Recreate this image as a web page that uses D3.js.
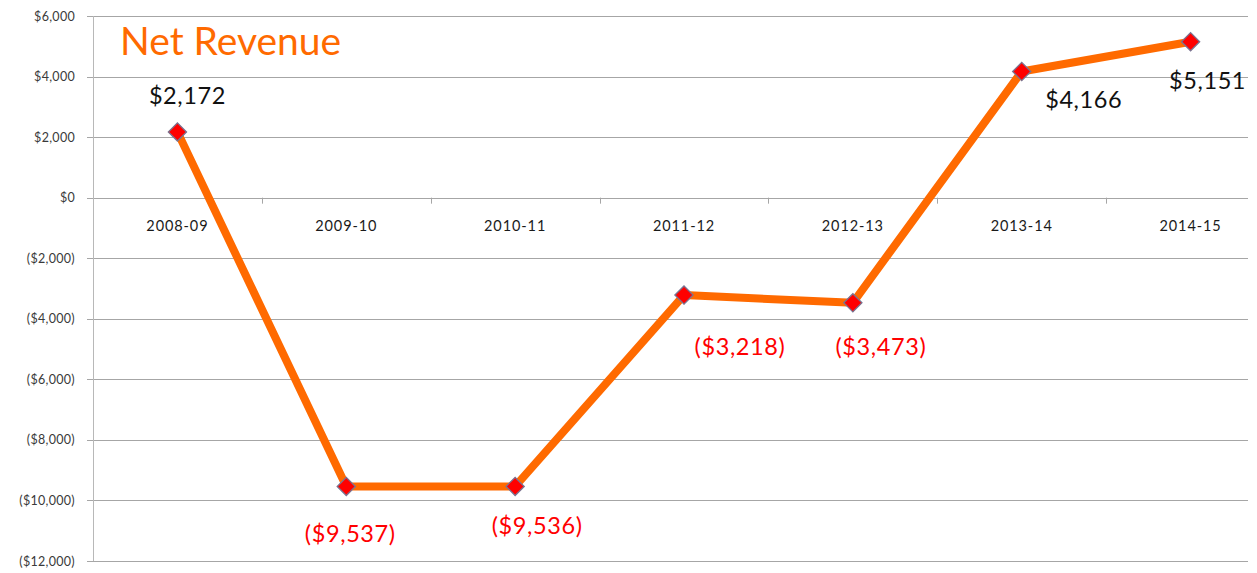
<!DOCTYPE html>
<html lang="en">
<head>
  <meta charset="UTF-8">
  <title>Net Revenue</title>
  <script src="https://d3js.org/d3.v7.min.js"></script>
  <style>
    html, body {
      margin: 0;
      background: #fff;
      font-family: Lato, "Open Sans", sans-serif;
    }
    .ytick text { font-size: 12.5px; fill: #3a3a3a; letter-spacing: 0.3px; }
    .xtick text { font-size: 14.5px; fill: #1a1a1a; letter-spacing: 0.9px; }
    .title { font-size: 39px; fill: #ff6a00; }
    .dlabel { font-size: 23.5px; text-anchor: middle; dominant-baseline: central; letter-spacing: 0.6px; }
  </style>
</head>
<body>
  <div id="chart"></div>

  <script>
    const years = ["2008-09", "2009-10", "2010-11", "2011-12", "2012-13", "2013-14", "2014-15"];
    const revenue = [2172, -9537, -9536, -3218, -3473, 4166, 5151];
    const yTicks = [6000, 4000, 2000, 0, -2000, -4000, -6000, -8000, -10000, -12000];
    // label nudges (px) relative to each point, as dragged in the original
    const labelDx = [10, 4, 22, 56, 28, 62, 17];
    const labelDy = [-37, 47, 39, 51, 43, 27, 38];

    const W = 1257, H = 573;
    const plotL = 93, plotR = 1275, plotT = 16, plotB = 561, gridEnd = 1248;

    const svg = d3.select("#chart").append("svg")
      .attr("width", W)
      .attr("height", H);

    const x = d3.scaleBand().domain(years).range([plotL, plotR]);
    const y = d3.scaleLinear().domain([-12000, 6000]).range([plotB, plotT]);

    const money = v => v < 0 ? "($" + d3.format(",")(-v) + ")" : "$" + d3.format(",")(v);

    // gridlines + y labels
    const yg = svg.append("g").attr("class", "ytick");
    yg.selectAll("line")
      .data(yTicks)
      .enter()
      .append("line")
      .attr("x1", plotL - 6)
      .attr("x2", gridEnd)
      .attr("y1", d => Math.round(y(d)) + 0.5)
      .attr("y2", d => Math.round(y(d)) + 0.5)
      .attr("stroke", "#a6a6a6");
    yg.selectAll("text")
      .data(yTicks)
      .enter()
      .append("text")
      .attr("x", plotL - 18)
      .attr("y", d => y(d))
      .attr("text-anchor", "end")
      .attr("dominant-baseline", "central")
      .text(d => money(d));

    // vertical axis line
    svg.append("line")
      .attr("x1", plotL + 0.5).attr("x2", plotL + 0.5)
      .attr("y1", plotT).attr("y2", plotB)
      .attr("stroke", "#b8b8b8");

    // category ticks on the zero line
    svg.append("g")
      .selectAll("line")
      .data(years.slice(1))
      .enter()
      .append("line")
      .attr("x1", d => Math.round(x(d)) + 0.5)
      .attr("x2", d => Math.round(x(d)) + 0.5)
      .attr("y1", y(0))
      .attr("y2", y(0) + 6)
      .attr("stroke", "#a6a6a6");

    // category labels
    svg.append("g").attr("class", "xtick")
      .selectAll("text")
      .data(years)
      .enter()
      .append("text")
      .attr("x", d => x(d) + x.bandwidth() / 2)
      .attr("y", y(0) + 28)
      .attr("text-anchor", "middle")
      .attr("dominant-baseline", "central")
      .text(d => d);

    const pts = years.map((c, i) => ({ c, v: revenue[i], i }));
    const cx = d => x(d.c) + x.bandwidth() / 2;

    // line
    svg.append("path")
      .datum(pts)
      .attr("fill", "none")
      .attr("stroke", "#ff6a00")
      .attr("stroke-width", 8)
      .attr("stroke-linejoin", "round")
      .attr("d", d3.line().x(cx).y(d => y(d.v)));

    // diamond markers
    svg.append("g")
      .selectAll("path")
      .data(pts)
      .enter()
      .append("path")
      .attr("transform", d => `translate(${cx(d)},${y(d.v)}) rotate(45)`)
      .attr("d", d3.symbol(d3.symbolSquare, 165)())
      .attr("fill", "#ff0000")
      .attr("stroke", "#7a7390")
      .attr("stroke-width", 1.3);

    // data labels
    svg.append("g")
      .selectAll("text")
      .data(pts)
      .enter()
      .append("text")
      .attr("class", "dlabel")
      .attr("x", d => cx(d) + labelDx[d.i])
      .attr("y", d => y(d.v) + labelDy[d.i])
      .attr("fill", d => d.v < 0 ? "#ff0000" : "#111")
      .text(d => money(d.v));

    // title
    svg.append("text")
      .attr("class", "title")
      .attr("x", 120)
      .attr("y", 55)
      .text("Net Revenue");
  </script>
</body>
</html>
